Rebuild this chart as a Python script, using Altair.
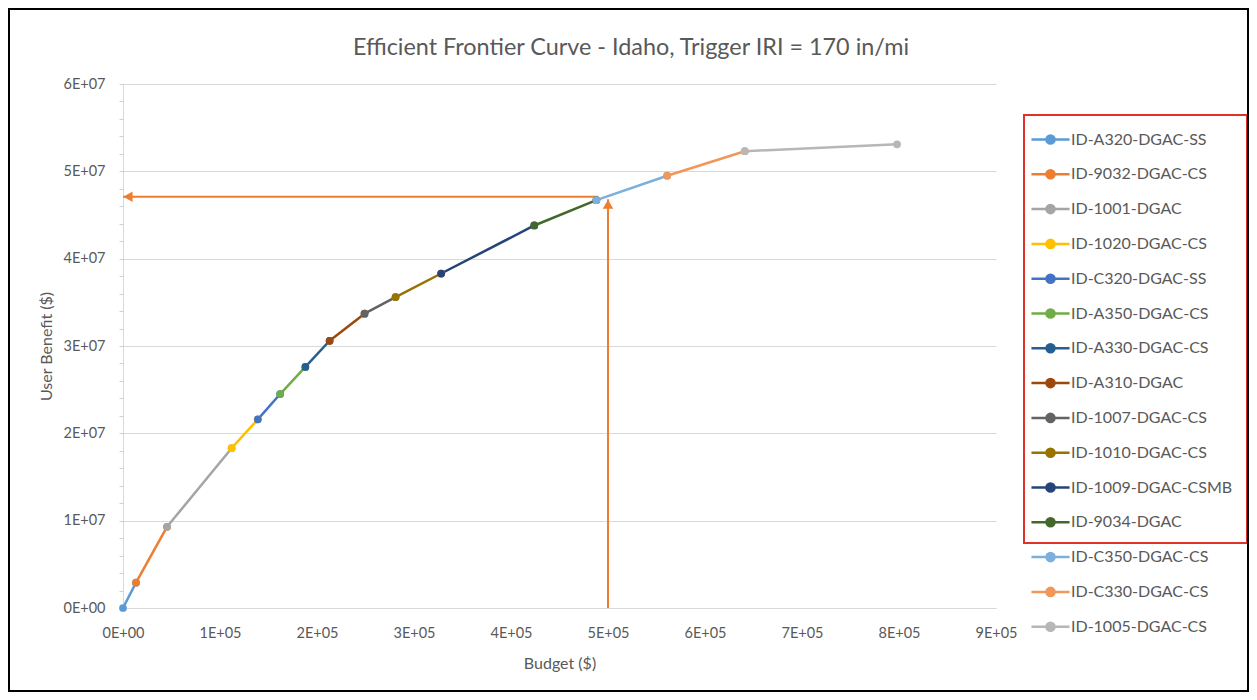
import altair as alt
import pandas as pd

series_names = [
    "ID-A320-DGAC-SS", "ID-9032-DGAC-CS", "ID-1001-DGAC", "ID-1020-DGAC-CS",
    "ID-C320-DGAC-SS", "ID-A350-DGAC-CS", "ID-A330-DGAC-CS", "ID-A310-DGAC",
    "ID-1007-DGAC-CS", "ID-1010-DGAC-CS", "ID-1009-DGAC-CSMB", "ID-9034-DGAC",
    "ID-C350-DGAC-CS", "ID-C330-DGAC-CS", "ID-1005-DGAC-CS",
]
series_colors = [
    "#5B9BD5", "#ED7D31", "#A5A5A5", "#FFC000", "#4472C4", "#70AD47", "#255E91",
    "#9E480E", "#636363", "#997300", "#264478", "#43682B", "#7CAFDD", "#F1975A",
    "#B7B7B7",
]
budget = [0, 13400, 45400, 112000, 139000, 162000, 188000, 213000, 249000,
          281000, 328000, 424000, 488000, 561000, 641000, 798000]
benefit = [0, 2.9e6, 9.3e6, 18.3e6, 21.6e6, 24.5e6, 27.6e6, 30.6e6, 33.7e6,
           35.6e6, 38.3e6, 43.8e6, 46.7e6, 49.5e6, 52.3e6, 53.1e6]

x_ticks = [0, 100000, 200000, 300000, 400000, 500000, 600000, 700000, 800000, 900000]
y_ticks = [0, 1e7, 2e7, 3e7, 4e7, 5e7, 6e7]
y_minor = [i * 2e6 for i in range(31)]

h_arrow_budget = [0, 490000]
h_arrow_benefit = [4.71e7, 4.71e7]
v_arrow_budget = [500000, 500000]
v_arrow_benefit = [0, 4.68e7]

title_text = "Efficient Frontier Curve - Idaho, Trigger IRI = 170 in/mi"

rows = []
for k, name in enumerate(series_names):
    for step in (0, 1):
        rows.append({"series": name, "step": step,
                     "budget": budget[k + step], "benefit": benefit[k + step]})
df = pd.DataFrame(rows)

FONT = "Lato"
TXT = "#595959"
ORANGE = "#ED7D31"

xscale = alt.Scale(domain=[0, 900000], nice=False)
yscale = alt.Scale(domain=[0, 6e7], nice=False)


def xq(axis=None):
    if axis is None:
        return alt.X("budget:Q", scale=xscale)
    return alt.X("budget:Q", scale=xscale, axis=axis)


def yq(axis=None):
    # y axes are independent per layer: hide the ones that are not wanted
    return alt.Y("benefit:Q", scale=yscale, axis=axis)


legend_path = ("M-1.27,0L1.27,0M0.27,0A0.27,0.27,0,1,1,-0.27,0"
               "A0.27,0.27,0,1,1,0.27,0Z")

color = alt.Color(
    "series:N",
    scale=alt.Scale(domain=series_names, range=series_colors),
    legend=alt.Legend(
        title=None, orient="none", legendX=911, legendY=39, padding=0,
        symbolType=legend_path, symbolSize=900, symbolStrokeWidth=2.5,
        labelFont=FONT, labelFontSize=16, labelColor=TXT, labelOffset=4,
        rowPadding=8.8, labelLimit=300,
    ),
)

x_axis = alt.Axis(
    values=x_ticks, grid=False, ticks=False, labelPadding=18, labelFlush=False,
    labelExpr="datum.value == 0 ? '0E+00' : (datum.value / 100000) + 'E+05'",
    labelFont=FONT, labelFontSize=14.5, labelColor=TXT,
    title="Budget ($)", titlePadding=16, titleFont=FONT, titleFontSize=16,
    titleFontWeight="normal", titleColor=TXT,
)
y_axis = alt.Axis(
    values=y_ticks, grid=True, ticks=False, labelPadding=18, labelFlush=False,
    labelExpr="datum.value == 0 ? '0E+00' : (datum.value / 10000000) + 'E+07'",
    labelFont=FONT, labelFontSize=14.5, labelColor=TXT,
    title="User Benefit ($)", titlePadding=8, titleFont=FONT, titleFontSize=16,
    titleFontWeight="normal", titleColor=TXT, orient="left",
)
y_minor_axis = alt.Axis(
    values=y_minor, labels=False, grid=False, domain=False, ticks=True,
    tickSize=4, tickColor="#D0D0D0", title=None, orient="left",
)

lines = alt.Chart(df).mark_line(strokeWidth=2.5).encode(
    x=xq(x_axis), y=yq(y_axis), color=color, order=alt.Order("step:Q"),
)
points = alt.Chart(df).mark_point(filled=True, size=60, opacity=1).encode(
    x=xq(), y=yq(), color=alt.Color("series:N", legend=None),
)

hdf = pd.DataFrame({"budget": h_arrow_budget, "benefit": h_arrow_benefit})
vdf = pd.DataFrame({"budget": v_arrow_budget, "benefit": v_arrow_benefit})

h_line = alt.Chart(hdf).mark_line(color=ORANGE, strokeWidth=2).encode(x=xq(), y=yq())
h_head = alt.Chart(hdf.iloc[[0]]).mark_point(
    shape="triangle-left", filled=True, color=ORANGE, size=110, opacity=1, xOffset=5
).encode(x=xq(), y=yq())

v_line = alt.Chart(vdf).mark_line(color=ORANGE, strokeWidth=2).encode(
    x=xq(), y=yq(y_minor_axis),
)
v_head = alt.Chart(vdf.iloc[[1]]).mark_point(
    shape="triangle-up", filled=True, color=ORANGE, size=110, opacity=1, yOffset=5
).encode(x=xq(), y=yq())

title = alt.Chart(alt.Data(values=[{"t": title_text}])).mark_text(
    font=FONT, fontSize=23.4, color=TXT, align="center", baseline="alphabetic"
).encode(text="t:N", x=alt.value(508), y=alt.value(-29))

box = alt.Chart(alt.Data(values=[{}])).mark_rect(
    fill=None, stroke="#E0312B", strokeWidth=2
).encode(x=alt.value(901), x2=alt.value(1124), y=alt.value(31), y2=alt.value(459))

border = alt.Chart(alt.Data(values=[{}])).mark_rect(
    fill=None, stroke="#000000", strokeWidth=2
).encode(x=alt.value(-114), x2=alt.value(1125), y=alt.value(-75), y2=alt.value(607))

chart = alt.layer(
    lines, v_line, h_line, points, h_head, v_head, title, box, border
).resolve_axis(y="independent").properties(
    width=873, height=524,
    autosize=alt.AutoSizeParams(type="none"),
    padding={"left": 115, "top": 76, "right": 253, "bottom": 84},
).configure_axis(
    domainColor="#D9D9D9", gridColor="#D9D9D9", gridWidth=1,
).configure_view(stroke=None)

chart.save("out.html", embed_options={"renderer": "svg", "actions": False})
